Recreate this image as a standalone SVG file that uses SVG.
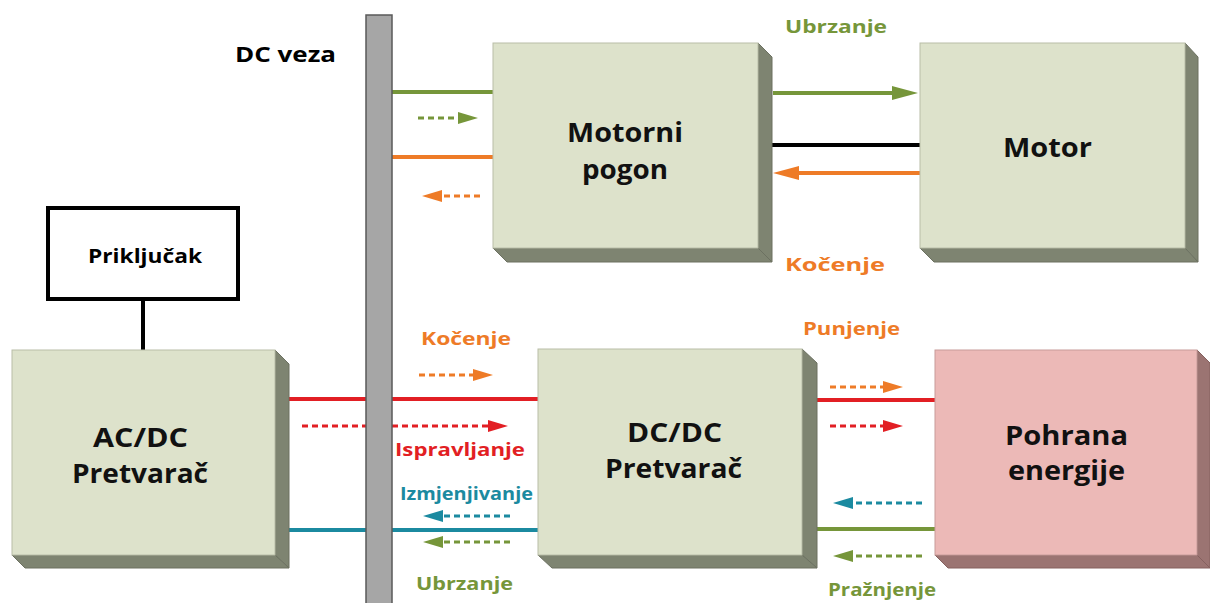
<svg xmlns="http://www.w3.org/2000/svg" width="1210" height="603" viewBox="0 0 1210 603">
<style>
.lbl{font-family:"Open Sans","Liberation Sans",sans-serif;font-weight:700;font-size:18px}
.big{font-family:"Open Sans","Liberation Sans",sans-serif;font-weight:700;font-size:26px;fill:#111}
.front{fill:#dde2cb;stroke:#b9bea8;stroke-width:1}
.side{fill:#7e8471;stroke:#6c7161;stroke-width:1}
.pfront{fill:#ecb9b7;stroke:#c89c9a;stroke-width:1}
.pside{fill:#9b7472;stroke:#85615f;stroke-width:1}
.g{stroke:#76963a}
.o{stroke:#ee7b27}
.r{stroke:#e21f24}
.t{stroke:#1b8aa0}
.solid{stroke-width:4;fill:none}
.dash{stroke-width:3;fill:none;stroke-dasharray:6 4}
</style>
<defs>
<marker id="hg" viewBox="0 0 20 12" refX="10" refY="6" markerWidth="20" markerHeight="12" markerUnits="userSpaceOnUse" orient="auto"><path d="M0,0 L20,6 L0,12 z" fill="#76963a"/></marker>
<marker id="ho" viewBox="0 0 20 12" refX="10" refY="6" markerWidth="20" markerHeight="12" markerUnits="userSpaceOnUse" orient="auto"><path d="M0,0 L20,6 L0,12 z" fill="#ee7b27"/></marker>
<marker id="hr" viewBox="0 0 20 12" refX="10" refY="6" markerWidth="20" markerHeight="12" markerUnits="userSpaceOnUse" orient="auto"><path d="M0,0 L20,6 L0,12 z" fill="#e21f24"/></marker>
<marker id="ht" viewBox="0 0 20 12" refX="10" refY="6" markerWidth="20" markerHeight="12" markerUnits="userSpaceOnUse" orient="auto"><path d="M0,0 L20,6 L0,12 z" fill="#1b8aa0"/></marker>
<marker id="Hg" viewBox="0 0 26 14" refX="13" refY="7" markerWidth="26" markerHeight="14" markerUnits="userSpaceOnUse" orient="auto"><path d="M0,0 L26,7 L0,14 z" fill="#76963a"/></marker>
<marker id="Ho" viewBox="0 0 26 14" refX="13" refY="7" markerWidth="26" markerHeight="14" markerUnits="userSpaceOnUse" orient="auto"><path d="M0,0 L26,7 L0,14 z" fill="#ee7b27"/></marker>
</defs>
<rect x="0" y="0" width="1210" height="603" fill="#ffffff"/>

<g id="connectors">
  <line x1="143" y1="299" x2="143" y2="350" stroke="#000" stroke-width="4"/>
  <line class="g solid" x1="392" y1="92" x2="493" y2="92"/>
  <line class="o solid" x1="392" y1="157" x2="493" y2="157"/>
  <path class="g dash" d="M418,118 H468" marker-end="url(#hg)"/>
  <path class="o dash" d="M480,196 H432" marker-end="url(#ho)"/>
  <path class="g solid" d="M773,93 H905" marker-end="url(#Hg)"/>
  <line x1="772" y1="145" x2="920" y2="145" stroke="#000" stroke-width="4"/>
  <path class="o solid" d="M920,173 H786" marker-end="url(#Ho)"/>
  <line class="r solid" x1="289" y1="399" x2="538" y2="399"/>
  <line class="t solid" x1="289" y1="530" x2="538" y2="530"/>
  <path class="o dash" d="M419,375 H483" marker-end="url(#ho)"/>
  <path class="r dash" d="M302,426 H498" marker-end="url(#hr)"/>
  <path class="t dash" d="M510,516 H433" marker-end="url(#ht)"/>
  <path class="g dash" d="M510,542 H433" marker-end="url(#hg)"/>
  <line class="r solid" x1="817" y1="400" x2="935" y2="400"/>
  <line class="g solid" x1="817" y1="529" x2="935" y2="529"/>
  <path class="o dash" d="M830,387 H893" marker-end="url(#ho)"/>
  <path class="r dash" d="M830,426 H893" marker-end="url(#hr)"/>
  <path class="t dash" d="M922,503 H843" marker-end="url(#ht)"/>
  <path class="g dash" d="M922,556 H843" marker-end="url(#hg)"/>
</g>

<g id="dc-bus">
  <rect x="366" y="15" width="26" height="600" fill="#a6a6a6" stroke="#5a5a5a" stroke-width="1.5"/>
  <text class="lbl" x="235" y="62" fill="#000" textLength="101" lengthAdjust="spacingAndGlyphs" style="font-size:22px">DC veza</text>
</g>

<g id="motorni-pogon">
  <polygon class="side" points="758,43 772,57 772,262 758,248"/>
  <polygon class="side" points="493,248 758,248 772,262 507,262"/>
  <rect class="front" x="493" y="43" width="265" height="205"/>
  <text class="big" x="567" y="142" textLength="116" lengthAdjust="spacingAndGlyphs">Motorni</text>
  <text class="big" x="582" y="179" textLength="86" lengthAdjust="spacingAndGlyphs">pogon</text>
</g>

<g id="motor">
  <polygon class="side" points="1185,43 1198,57 1198,262 1185,248"/>
  <polygon class="side" points="920,248 1185,248 1198,262 934,262"/>
  <rect class="front" x="920" y="43" width="265" height="205"/>
  <text class="big" x="1003" y="157" textLength="89" lengthAdjust="spacingAndGlyphs">Motor</text>
</g>

<g id="prikljucak">
  <rect x="48" y="208" width="190" height="91" fill="#fff" stroke="#000" stroke-width="4"/>
  <text class="lbl" x="88" y="263" fill="#000" textLength="114" lengthAdjust="spacingAndGlyphs" style="font-size:20px">Priključak</text>
</g>

<g id="ac-dc">
  <polygon class="side" points="275,350 289,364 289,568 275,555"/>
  <polygon class="side" points="12,555 275,555 289,568 25,568"/>
  <rect class="front" x="12" y="350" width="263" height="205"/>
  <text class="big" x="93" y="447" textLength="95" lengthAdjust="spacingAndGlyphs">AC/DC</text>
  <text class="big" x="72" y="483" textLength="136" lengthAdjust="spacingAndGlyphs">Pretvarač</text>
</g>

<g id="dc-dc">
  <polygon class="side" points="802,349 817,363 817,568 802,555"/>
  <polygon class="side" points="538,555 802,555 817,568 552,568"/>
  <rect class="front" x="538" y="349" width="264" height="206"/>
  <text class="big" x="627" y="442" textLength="95" lengthAdjust="spacingAndGlyphs">DC/DC</text>
  <text class="big" x="605" y="478" textLength="137" lengthAdjust="spacingAndGlyphs">Pretvarač</text>
</g>

<g id="pohrana">
  <polygon class="pside" points="1197,350 1210,363 1210,568 1197,555"/>
  <polygon class="pside" points="935,555 1197,555 1210,568 948,568"/>
  <rect class="pfront" x="935" y="350" width="262" height="205"/>
  <text class="big" x="1005" y="445" textLength="123" lengthAdjust="spacingAndGlyphs">Pohrana</text>
  <text class="big" x="1008" y="480" textLength="117" lengthAdjust="spacingAndGlyphs">energije</text>
</g>

<g id="labels">
  <text class="lbl" x="785" y="33" fill="#76963a" textLength="102" lengthAdjust="spacingAndGlyphs">Ubrzanje</text>
  <text class="lbl" x="785" y="271" fill="#ee7b27" textLength="100" lengthAdjust="spacingAndGlyphs">Kočenje</text>
  <text class="lbl" x="421" y="345" fill="#ee7b27" textLength="90" lengthAdjust="spacingAndGlyphs">Kočenje</text>
  <text class="lbl" x="395" y="456" fill="#e21f24" textLength="130" lengthAdjust="spacingAndGlyphs">Ispravljanje</text>
  <text class="lbl" x="400" y="500" fill="#1b8aa0" textLength="133" lengthAdjust="spacingAndGlyphs">Izmjenjivanje</text>
  <text class="lbl" x="416" y="590" fill="#76963a" textLength="97" lengthAdjust="spacingAndGlyphs">Ubrzanje</text>
  <text class="lbl" x="803" y="335" fill="#ee7b27" textLength="97" lengthAdjust="spacingAndGlyphs">Punjenje</text>
  <text class="lbl" x="828" y="596" fill="#76963a" textLength="108" lengthAdjust="spacingAndGlyphs">Pražnjenje</text>
</g>
</svg>
